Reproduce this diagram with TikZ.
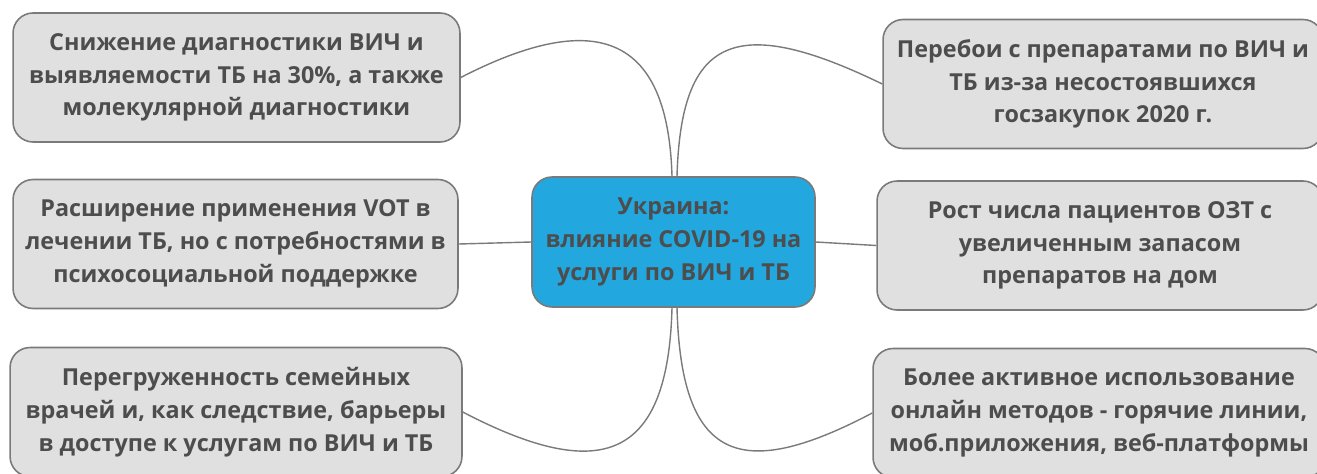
\documentclass[tikz,border=0pt]{standalone}
\usepackage{fontspec}
\setmainfont{Open Sans}
\usepackage{xcolor}
\usepackage{tikz}
\definecolor{leafgray}{HTML}{E0E0E0}
\definecolor{edgegray}{HTML}{7A7A7A}
\definecolor{hubblue}{HTML}{22A7DE}
\definecolor{textgray}{HTML}{4D4D4D}
\tikzset{
    leaf/.style={draw=edgegray,fill=leafgray,line width=0.9pt,rounded corners=0.4cm,align=center,text=textgray,
                 font=\fontsize{13.3}{18.6}\selectfont\bfseries,minimum height=2.58cm},
    hub/.style={leaf,fill=hubblue},
    link/.style={edgegray,line width=0.8pt}
}

\begin{document}
\begin{tikzpicture}[x=0.02cm,y=-0.02cm]
                    \useasboundingbox (0,0) rectangle (1317,473);
                    \clip (0,0) rectangle (1317,473);

                    \node[hub,minimum width=5.66cm,minimum height=2.6cm] (hub) at (673.5,242) {Украина:\\влияние COVID-19 на\\услуги по ВИЧ и ТБ};

                    \node[leaf,minimum width=8.94cm] (diag) at (236.5,77.5) {Снижение диагностики ВИЧ и\\выявляемости ТБ на 30\%, а также\\молекулярной диагностики};
                    \node[leaf,minimum width=8.9cm] (vot) at (235.5,244) {Расширение применения VOT в\\лечении ТБ, но с потребностями в\\психосоциальной поддержке};
                    \node[leaf,minimum width=9.04cm] (doctors) at (236,412) {Перегруженность семейных\\врачей и, как следствие, барьеры\\в доступе к услугам по ВИЧ и ТБ};

                    \node[leaf,minimum width=8.8cm] (drugs) at (1103,84) {Перебои с препаратами по ВИЧ и\\ТБ из-за несостоявшихся\\госзакупок 2020 г.};
                    \node[leaf,minimum width=8.92cm] (ozt) at (1100,245.5) {Рост числа пациентов ОЗТ с\\увеличенным запасом\\препаратов на дом};
                    \node[leaf,minimum width=9.04cm] (online) at (1099,413) {Более активное использование\\онлайн методов - горячие линии,\\моб.приложения, веб-платформы};

                    \draw[link] ([xshift=-0.03cm]hub.north) .. controls +(-4,-137) and +(140,-72) .. (diag.east);
                    \draw[link] (hub.west) -- (vot.east);
                    \draw[link] ([xshift=-0.03cm]hub.south) .. controls +(-4,153) and +(138,72) .. (doctors.east);

                    \draw[link] ([xshift=0.07cm]hub.north) .. controls +(4,-137) and +(-150,-73) .. (drugs.west);
                    \draw[link] (hub.east) -- (ozt.west);
                    \draw[link] ([xshift=0.07cm]hub.south) .. controls +(4,153) and +(-133,70) .. (online.west);
                \end{tikzpicture}
\end{document}
